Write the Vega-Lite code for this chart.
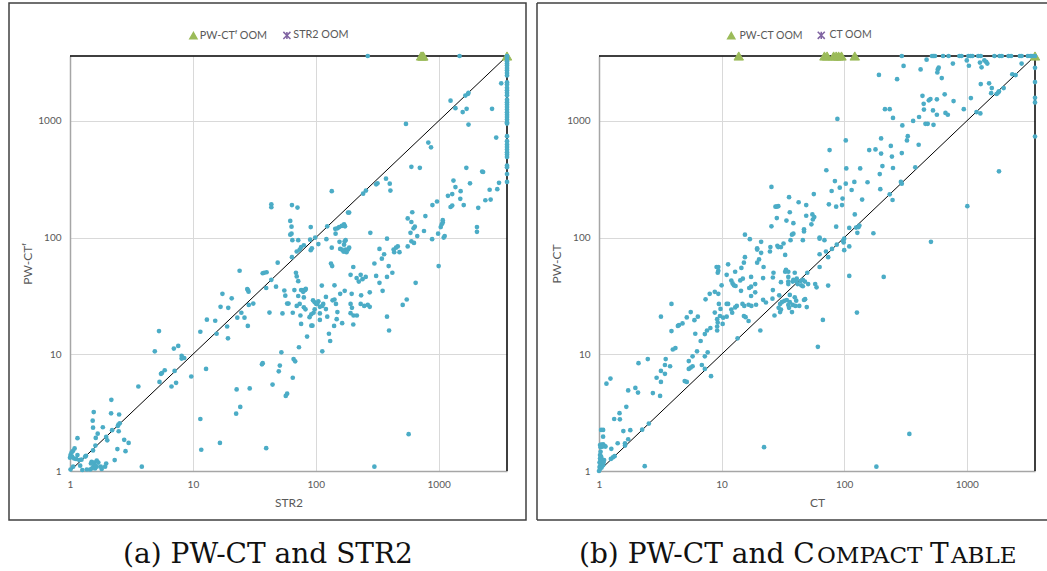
{"$schema":"https://vega.github.io/schema/vega-lite/v6.json","background":"white","padding":{"left":8,"top":2,"right":0,"bottom":0},"spacing":9,"resolve":{"scale":{"shape":"independent","fill":"independent","stroke":"independent"},"legend":{"shape":"independent","fill":"independent","stroke":"independent"}},"config":{"view":{"stroke":null},"axis":{"labelFont":"Lato","titleFont":"Lato","labelFontSize":10,"titleFontSize":12,"labelColor":"#595959","titleColor":"#595959","titleFontWeight":"normal","ticks":false,"labelFlush":false,"domainColor":"#A6A6A6","domainWidth":1.5,"gridColor":"#D9D9D9","gridWidth":1},"legend":{"labelFont":"Lato","labelColor":"#595959"}},
"hconcat":[
{"width":437,"height":415,"layer":[
{"data":{"values":[{}]},"mark":{"type":"rect","fillOpacity":0,"stroke":"#404040","strokeWidth":1.5},"encoding":{"x":{"value":-61},"x2":{"value":456},"y":{"value":-53},"y2":{"value":464}}},
{"data":{"values":[{"x":1,"y":1,"k":"diag","i":0},{"x":3600,"y":3600,"k":"diag","i":1},{"x":1,"y":3600,"k":"box","i":0},{"x":3600,"y":3600,"k":"box","i":1},{"x":3600,"y":1,"k":"box","i":2}]},"mark":{"type":"line","color":"black"},"encoding":{"x":{"field":"x","type":"quantitative","scale":{"type":"log","domain":[1,3600],"nice":false},"axis":{"values":[1,10,100,1000],"grid":true,"title":"STR2","format":"d","labelPadding":8,"titlePadding":8}},"y":{"field":"y","type":"quantitative","scale":{"type":"log","domain":[1,3600],"nice":false},"axis":{"values":[1,10,100,1000],"grid":true,"title":"PW-CTᶠ","format":"d","labelPadding":9,"titlePadding":3}},"detail":{"field":"k"},"order":{"field":"i"},"strokeWidth":{"field":"k","type":"nominal","scale":{"domain":["diag","box"],"range":[1,1.5]},"legend":null}}},
{"data":{"values":[{"x":720,"y":3600,"s":"PW-CTᶠ OOM"},{"x":740,"y":3600,"s":"PW-CTᶠ OOM"},{"x":750,"y":3600,"s":"PW-CTᶠ OOM"},{"x":3600,"y":3600,"s":"PW-CTᶠ OOM"}]},"mark":{"type":"point","opacity":1,"size":90,"strokeWidth":1},"encoding":{"x":{"field":"x","type":"quantitative"},"y":{"field":"y","type":"quantitative"},"shape":{"field":"s","type":"nominal","scale":{"domain":["PW-CTᶠ OOM","STR2 OOM"],"range":["triangle-up","M-1,-1L1,1M-1,1L1,-1M0,-1L0,1"]},"legend":{"title":null,"orient":"none","direction":"horizontal","legendX":118,"legendY":-26,"columns":2,"symbolSize":50,"columnPadding":11.5,"labelOffset":1,"labelFontSize":10.8}},"fill":{"field":"s","type":"nominal","scale":{"domain":["PW-CTᶠ OOM","STR2 OOM"],"range":["#9BBB59","#8064A2"]},"legend":{"title":null,"orient":"none","direction":"horizontal","legendX":118,"legendY":-26,"columns":2,"symbolSize":50,"columnPadding":11.5,"labelOffset":1,"labelFontSize":10.8}},"stroke":{"field":"s","type":"nominal","scale":{"domain":["PW-CTᶠ OOM","STR2 OOM"],"range":["#9BBB59","#8064A2"]},"legend":{"title":null,"orient":"none","direction":"horizontal","legendX":118,"legendY":-26,"columns":2,"symbolSize":50,"columnPadding":11.5,"labelOffset":1,"labelFontSize":10.8}}}},
{"data":{"values":[
{"x":5.3,"y":15.8},{"x":4.9,"y":10.6},{"x":7,"y":11.2},{"x":7.6,"y":11.8},{"x":8.1,"y":9.7},{"x":8.1,"y":9.2},{"x":8.5,"y":9.3},{"x":11.5,"y":15.6},{"x":13,"y":19.8},{"x":15.2,"y":19.4},{"x":15.6,"y":15},{"x":19,"y":17.3},{"x":19.3,"y":13.7},{"x":16.8,"y":25.5},{"x":17.4,"y":33},{"x":20.7,"y":30.2},{"x":19.4,"y":25},{"x":23,"y":20.6},{"x":24.8,"y":22.7},{"x":26.3,"y":20.6},{"x":28,"y":17.5},{"x":28,"y":35.5},{"x":27.7,"y":36.2},{"x":28.4,"y":34.4},{"x":28.5,"y":26.5},{"x":31,"y":27.2},{"x":42,"y":22.8},{"x":53.6,"y":22.4},{"x":65,"y":22.7},{"x":39.5,"y":37},{"x":43.5,"y":43.5},{"x":47.5,"y":38},{"x":37,"y":49.5},{"x":38,"y":50},{"x":39.8,"y":50.5},{"x":24,"y":52},{"x":55.5,"y":35.2},{"x":56.5,"y":31.8},{"x":67,"y":35.5},{"x":69,"y":50},{"x":70,"y":46.5},{"x":72,"y":42.3},{"x":72,"y":31.6},{"x":80,"y":30.7},{"x":76,"y":35.5},{"x":79,"y":35.5},{"x":82,"y":35.5},{"x":83,"y":36.3},{"x":79,"y":34.3},{"x":58.5,"y":27.2},{"x":60,"y":27.2},{"x":70,"y":26},{"x":74,"y":27},{"x":80,"y":25.3},{"x":82.5,"y":24.3},{"x":75,"y":21.5},{"x":76,"y":18.2},{"x":92,"y":17.6},{"x":94,"y":17.6},{"x":85,"y":14.2},{"x":73,"y":11.5},{"x":52.5,"y":10.4},{"x":113,"y":10.6},{"x":95,"y":29},{"x":98,"y":27.9},{"x":101,"y":27},{"x":105,"y":28.5},{"x":103,"y":27.2},{"x":108,"y":25.5},{"x":113,"y":26},{"x":115,"y":27},{"x":121,"y":24.4},{"x":121,"y":31},{"x":98,"y":24.3},{"x":96,"y":22.7},{"x":92,"y":22},{"x":89,"y":20.8},{"x":108,"y":22.4},{"x":108,"y":19.7},{"x":124,"y":21},{"x":112,"y":38.8},{"x":128,"y":15},{"x":131,"y":13},
{"x":12.8,"y":7.5},{"x":9.7,"y":6.45},{"x":7.3,"y":5.7},{"x":6.7,"y":5.3},{"x":5.35,"y":5.8},{"x":3.6,"y":5.3},{"x":5.5,"y":6.8},{"x":5.6,"y":6.9},{"x":5.9,"y":7.3},{"x":7.1,"y":7.2},{"x":2.17,"y":4.07},{"x":1.56,"y":3.2},{"x":2.16,"y":3.12},{"x":2.51,"y":3.05},{"x":1.53,"y":2.7},{"x":1.54,"y":2.35},{"x":1.85,"y":2.37},{"x":2.2,"y":2.24},{"x":2.54,"y":2.56},{"x":2.48,"y":2.5},{"x":2.45,"y":2.43},{"x":2.49,"y":2.19},{"x":1.68,"y":2.09},{"x":1.62,"y":1.92},{"x":1.97,"y":1.96},{"x":2.01,"y":1.83},{"x":2.76,"y":1.85},{"x":3,"y":1.74},{"x":1.15,"y":1.91},{"x":1.61,"y":1.65},{"x":1.54,"y":1.5},{"x":2.43,"y":1.54},{"x":2.83,"y":1.48},{"x":2.31,"y":1.24},{"x":3.84,"y":1.09},
{"x":1.09,"y":1.56},{"x":1.06,"y":1.49},{"x":1.03,"y":1.44},{"x":1.01,"y":1.37},{"x":1.04,"y":1.33},{"x":1.08,"y":1.28},{"x":1.15,"y":1.37},{"x":1.12,"y":1.27},{"x":1.19,"y":1.24},{"x":1.24,"y":1.25},{"x":1.33,"y":1.33},{"x":1.35,"y":1.35},{"x":1,"y":1.3},
{"x":1.5,"y":1.2},{"x":1.57,"y":1.18},{"x":1.65,"y":1.23},{"x":1.7,"y":1.18},{"x":1.78,"y":1.09},{"x":1.93,"y":1.09},{"x":1.97,"y":1.16},{"x":1.55,"y":1.09},{"x":1.46,"y":1.03},{"x":1.37,"y":1.03},{"x":1.21,"y":1.11},{"x":1.06,"y":1.09},{"x":1.26,"y":1.02},{"x":1.6,"y":1.05},{"x":1.5,"y":1.05},{"x":1.81,"y":1.04},{"x":1.48,"y":1.16},{"x":1.6,"y":1.12},{"x":1.65,"y":1.09},{"x":1.01,"y":1.03},
{"x":11.5,"y":2.79},{"x":11.7,"y":1.52},{"x":16.6,"y":1.74},{"x":39.5,"y":1.57},{"x":22.7,"y":5},{"x":29,"y":5.1},{"x":24.3,"y":3.54},{"x":22.5,"y":3.1},{"x":36.5,"y":8.2},{"x":37,"y":8.4},{"x":51,"y":8},{"x":50,"y":7.15},{"x":65,"y":6.3},{"x":44.5,"y":5.5},{"x":58.5,"y":4.6},{"x":57,"y":4.4},{"x":66,"y":9.1},{"x":68,"y":8.7},{"x":300,"y":1.09},{"x":570,"y":2.07},
{"x":43.5,"y":193},{"x":43.5,"y":182},{"x":64,"y":190},{"x":71,"y":181},{"x":135,"y":250},{"x":62,"y":139},{"x":63.5,"y":124},{"x":63.5,"y":108},{"x":62,"y":106},{"x":64.5,"y":95},{"x":72,"y":95},{"x":91,"y":123},{"x":124,"y":125},{"x":90,"y":96},{"x":99,"y":100},{"x":122,"y":97},{"x":105,"y":88},{"x":93,"y":81},{"x":91,"y":78},{"x":70,"y":76},{"x":74,"y":79},{"x":76,"y":83},{"x":80,"y":86},{"x":64,"y":68},{"x":49,"y":61},{"x":135,"y":82},{"x":133,"y":60},{"x":136,"y":57},{"x":145,"y":108},{"x":144,"y":119},{"x":150,"y":120},{"x":155,"y":123},{"x":163,"y":126},{"x":170,"y":130},{"x":173,"y":125},{"x":168,"y":127},{"x":183,"y":164},{"x":187,"y":164},{"x":243,"y":238},{"x":256,"y":253},{"x":310,"y":286},{"x":318,"y":292},{"x":373,"y":320},{"x":400,"y":290},{"x":405,"y":253},{"x":278,"y":110},{"x":380,"y":98},{"x":156,"y":92},{"x":172,"y":93},{"x":175,"y":95},{"x":170,"y":87},{"x":158,"y":80},{"x":163,"y":79},{"x":170,"y":76},{"x":175,"y":79},{"x":183,"y":79},{"x":178,"y":75},{"x":168,"y":76},{"x":187,"y":82},{"x":330,"y":80},{"x":360,"y":72},{"x":345,"y":66},{"x":300,"y":60},{"x":202,"y":56},{"x":392,"y":57},{"x":420,"y":50},
{"x":192,"y":48},{"x":215,"y":45},{"x":232,"y":48},{"x":224,"y":42},{"x":240,"y":44},{"x":255,"y":46},{"x":310,"y":47},{"x":380,"y":46},{"x":330,"y":41},{"x":350,"y":35},{"x":275,"y":34},{"x":172,"y":35},{"x":158,"y":33},{"x":196,"y":33},{"x":234,"y":32},{"x":142,"y":39},{"x":142,"y":29.5},{"x":137,"y":29},{"x":146,"y":27},{"x":192,"y":27},{"x":232,"y":27},{"x":248,"y":26},{"x":265,"y":26.5},{"x":275,"y":25.5},{"x":150,"y":23},{"x":197,"y":25},{"x":192,"y":22.5},{"x":203,"y":21.5},{"x":216,"y":21.5},{"x":148,"y":20},{"x":164,"y":18.5},{"x":202,"y":18},{"x":141,"y":17.5},{"x":395,"y":16},{"x":380,"y":21},{"x":510,"y":26.5},{"x":550,"y":29.5},{"x":650,"y":41},
{"x":435,"y":75},{"x":430,"y":79},{"x":450,"y":82},{"x":465,"y":84},{"x":480,"y":75},{"x":560,"y":84},{"x":600,"y":93},{"x":630,"y":90},{"x":670,"y":103},{"x":760,"y":114},{"x":885,"y":97},{"x":590,"y":110},{"x":560,"y":146},{"x":600,"y":136},{"x":625,"y":120},{"x":640,"y":124},{"x":610,"y":165},{"x":780,"y":153},{"x":890,"y":190},{"x":970,"y":204},{"x":990,"y":108},{"x":1100,"y":100},{"x":1120,"y":103},{"x":1040,"y":123},{"x":1060,"y":130},{"x":1080,"y":135},{"x":1080,"y":141},{"x":1000,"y":57},{"x":1190,"y":228},{"x":1290,"y":236},{"x":1250,"y":183},{"x":1290,"y":188},{"x":1320,"y":308},{"x":1370,"y":271},{"x":1500,"y":215},{"x":1600,"y":190},{"x":1510,"y":250},{"x":1800,"y":292},{"x":2050,"y":123},{"x":2050,"y":112},{"x":2100,"y":180},{"x":2400,"y":209},{"x":2650,"y":212},{"x":2600,"y":257},{"x":3000,"y":260},{"x":3100,"y":295},{"x":2300,"y":365},
{"x":265,"y":3600},{"x":1480,"y":3600},{"x":3230,"y":2100},{"x":1730,"y":1700},{"x":1750,"y":1740},{"x":1650,"y":1650},{"x":1250,"y":1490},{"x":1370,"y":1285},{"x":1690,"y":1270},{"x":1570,"y":1190},{"x":2720,"y":1270},{"x":542,"y":943},{"x":1750,"y":930},{"x":2940,"y":720},{"x":824,"y":652},{"x":867,"y":594},{"x":600,"y":404},{"x":703,"y":396},{"x":1680,"y":396},{"x":2260,"y":368},
{"x":3600,"y":3600},{"x":3600,"y":3540},{"x":3600,"y":3400},{"x":3600,"y":3240},{"x":3600,"y":3100},{"x":3600,"y":2980},{"x":3600,"y":2840},{"x":3600,"y":2720},{"x":3600,"y":2580},{"x":3600,"y":2450},{"x":3600,"y":2140},{"x":3600,"y":2050},{"x":3600,"y":1920},{"x":3600,"y":1830},{"x":3600,"y":1740},{"x":3600,"y":1660},{"x":3600,"y":1520},{"x":3600,"y":1445},{"x":3600,"y":1380},{"x":3600,"y":1318},{"x":3600,"y":1250},{"x":3600,"y":1186},{"x":3600,"y":1130},{"x":3600,"y":1080},{"x":3600,"y":1026},{"x":3600,"y":974},{"x":3600,"y":948},{"x":3600,"y":740},{"x":3600,"y":670},{"x":3600,"y":627},{"x":3600,"y":599},{"x":3600,"y":568},{"x":3600,"y":539},{"x":3600,"y":515},{"x":3600,"y":491},{"x":3600,"y":414},{"x":3600,"y":401},{"x":3600,"y":351},{"x":3600,"y":300}
]},"mark":{"type":"circle","color":"#4BACC6","size":22,"opacity":1},"encoding":{"x":{"field":"x","type":"quantitative"},"y":{"field":"y","type":"quantitative"}}},
{"data":{"values":[{"caption":"(a) PW-CT and STR2"}]},"mark":{"type":"text","font":"DejaVu Serif","fontSize":28,"color":"#111111","align":"center","baseline":"alphabetic"},"encoding":{"text":{"field":"caption"},"x":{"value":198},"y":{"value":507}}}
]},
{"width":436,"height":415,"layer":[
{"data":{"values":[{}]},"mark":{"type":"rule","color":"#404040","strokeWidth":1.5},"encoding":{"x":{"value":-62},"x2":{"value":448},"y":{"value":-53}}},
{"data":{"values":[{}]},"mark":{"type":"rule","color":"#404040","strokeWidth":1.5},"encoding":{"x":{"value":-62},"x2":{"value":448},"y":{"value":464}}},
{"data":{"values":[{}]},"mark":{"type":"rule","color":"#404040","strokeWidth":1.5},"encoding":{"x":{"value":-62},"y":{"value":-53},"y2":{"value":464}}},
{"data":{"values":[{"x":1,"y":1,"k":"diag","i":0},{"x":3600,"y":3600,"k":"diag","i":1},{"x":1,"y":3600,"k":"box","i":0},{"x":3600,"y":3600,"k":"box","i":1},{"x":3600,"y":1,"k":"box","i":2}]},"mark":{"type":"line","color":"black"},"encoding":{"x":{"field":"x","type":"quantitative","scale":{"type":"log","domain":[1,3600],"nice":false},"axis":{"values":[1,10,100,1000],"grid":true,"title":"CT","format":"d","labelPadding":8,"titlePadding":8}},"y":{"field":"y","type":"quantitative","scale":{"type":"log","domain":[1,3600],"nice":false},"axis":{"values":[1,10,100,1000],"grid":true,"title":"PW-CT","format":"d","labelPadding":9,"titlePadding":3}},"detail":{"field":"k"},"order":{"field":"i"},"strokeWidth":{"field":"k","type":"nominal","scale":{"domain":["diag","box"],"range":[1,1.5]},"legend":null}}},
{"data":{"values":[{"x":13.8,"y":3600,"s":"PW-CT OOM"},{"x":69,"y":3600,"s":"PW-CT OOM"},{"x":72.5,"y":3600,"s":"PW-CT OOM"},{"x":82,"y":3600,"s":"PW-CT OOM"},{"x":86,"y":3600,"s":"PW-CT OOM"},{"x":90,"y":3600,"s":"PW-CT OOM"},{"x":95,"y":3600,"s":"PW-CT OOM"},{"x":122,"y":3600,"s":"PW-CT OOM"},{"x":3600,"y":3600,"s":"PW-CT OOM"}]},"mark":{"type":"point","opacity":1,"size":90,"strokeWidth":1},"encoding":{"x":{"field":"x","type":"quantitative"},"y":{"field":"y","type":"quantitative"},"shape":{"field":"s","type":"nominal","scale":{"domain":["PW-CT OOM","CT OOM"],"range":["triangle-up","M-1,-1L1,1M-1,1L1,-1M0,-1L0,1"]},"legend":{"title":null,"orient":"none","direction":"horizontal","legendX":127,"legendY":-26,"columns":2,"symbolSize":50,"columnPadding":11,"labelOffset":3,"labelFontSize":10.5}},"fill":{"field":"s","type":"nominal","scale":{"domain":["PW-CT OOM","CT OOM"],"range":["#9BBB59","#8064A2"]},"legend":{"title":null,"orient":"none","direction":"horizontal","legendX":127,"legendY":-26,"columns":2,"symbolSize":50,"columnPadding":11,"labelOffset":3,"labelFontSize":10.5}},"stroke":{"field":"s","type":"nominal","scale":{"domain":["PW-CT OOM","CT OOM"],"range":["#9BBB59","#8064A2"]},"legend":{"title":null,"orient":"none","direction":"horizontal","legendX":127,"legendY":-26,"columns":2,"symbolSize":50,"columnPadding":11,"labelOffset":3,"labelFontSize":10.5}}}},
{"data":{"values":[
{"x":110,"y":47},{"x":127,"y":22.8},{"x":74,"y":38.8},{"x":58,"y":40},{"x":59.5,"y":37.5},{"x":67,"y":19.7},{"x":61,"y":11.6},{"x":49.5,"y":25.4},{"x":20.7,"y":16},{"x":13.5,"y":13.7},{"x":8.2,"y":6.5},{"x":22.2,"y":1.6},{"x":2.36,"y":1.1},{"x":183,"y":1.09},{"x":340,"y":2.08},
{"x":3.9,"y":27},{"x":3.2,"y":21},{"x":3.9,"y":15.8},{"x":4,"y":11},{"x":4.2,"y":11.3},{"x":2.1,"y":8.4},{"x":2.5,"y":9.1},{"x":3.5,"y":9.1},{"x":3.45,"y":8.1},{"x":3.8,"y":7.9},{"x":3.2,"y":7.2},{"x":3.45,"y":6.8},{"x":2.95,"y":6.3},{"x":3.2,"y":5.8},{"x":1.24,"y":6.2},{"x":1.15,"y":5.6},{"x":1.73,"y":4.9},{"x":1.98,"y":5.15},{"x":2.08,"y":4.7},{"x":2.75,"y":4.65},{"x":3.15,"y":4.4},{"x":1.67,"y":3.55},{"x":1.47,"y":3.13},{"x":1.33,"y":2.79},{"x":1.48,"y":2.77},{"x":2.55,"y":2.55},{"x":2.25,"y":2.26},{"x":1.8,"y":2.24},{"x":1.58,"y":2.2},{"x":1.08,"y":2.25},{"x":1.04,"y":2.25},{"x":1.08,"y":1.97},{"x":1.73,"y":1.87},{"x":1.63,"y":1.73},{"x":1.63,"y":1.65},{"x":1.42,"y":1.73},{"x":1.26,"y":1.55},{"x":1.34,"y":1.34},{"x":1.3,"y":1.31},{"x":1.25,"y":1.27},
{"x":1.08,"y":1.69},{"x":1.04,"y":1.68},{"x":1.02,"y":1.67},{"x":1.11,"y":1.64},{"x":1.13,"y":1.62},{"x":1.03,"y":1.6},{"x":1.07,"y":1.62},{"x":1.03,"y":1.46},{"x":1.02,"y":1.37},{"x":1.04,"y":1.33},{"x":1.02,"y":1.28},{"x":1.06,"y":1.26},{"x":1.1,"y":1.24},{"x":1.03,"y":1.23},{"x":1.07,"y":1.2},{"x":1.01,"y":1.18},{"x":1.05,"y":1.15},{"x":1.09,"y":1.18},{"x":1.03,"y":1.12},{"x":1.08,"y":1.12},{"x":1.01,"y":1.08},{"x":1.05,"y":1.07},{"x":1.02,"y":1.04},{"x":1,"y":1},
{"x":5,"y":5.9},{"x":5.2,"y":5.8},{"x":7.3,"y":7.5},{"x":6.9,"y":8.1},{"x":5.8,"y":7.9},{"x":5.6,"y":7.7},{"x":5.4,"y":7.5},{"x":5.4,"y":8.75},{"x":5.8,"y":9.6},{"x":6.3,"y":10.6},{"x":7.3,"y":9.6},{"x":7.7,"y":10.4},{"x":6.75,"y":13},{"x":6.1,"y":15},{"x":7.3,"y":14.9},{"x":7.6,"y":16},{"x":8.1,"y":16.8},{"x":9.2,"y":16},{"x":9.2,"y":17.3},{"x":9.3,"y":18.7},{"x":9.2,"y":20},{"x":10.2,"y":18.2},{"x":10.3,"y":20.6},{"x":11,"y":21},{"x":9.7,"y":21.3},{"x":9.8,"y":24.5},{"x":8.8,"y":22.8},{"x":9.5,"y":27},{"x":11,"y":27},{"x":11.3,"y":27},{"x":12,"y":24.2},{"x":12.2,"y":22.7},{"x":12.9,"y":25.2},{"x":13.3,"y":26},{"x":14.8,"y":27},{"x":15.3,"y":26},{"x":16.6,"y":26.6},{"x":17.5,"y":26},{"x":19.1,"y":26.6},{"x":15.2,"y":21.3},{"x":15.7,"y":20.8},{"x":16.6,"y":19.3},{"x":6.4,"y":21},{"x":6,"y":19.6},{"x":5.6,"y":23},{"x":5.2,"y":20.7},{"x":4.8,"y":18.4},{"x":4.5,"y":17.8},{"x":4.4,"y":17.5},
{"x":7.4,"y":29.6},{"x":8,"y":33},{"x":8.8,"y":34.3},{"x":9.4,"y":33},{"x":10,"y":39},{"x":9.3,"y":50},{"x":9.4,"y":52},{"x":11,"y":48},{"x":12,"y":42.8},{"x":12.6,"y":39},{"x":12.3,"y":40.5},{"x":13,"y":38.5},{"x":14.4,"y":35},{"x":14.2,"y":43},{"x":14.9,"y":44.5},{"x":16.8,"y":37},{"x":17.4,"y":38},{"x":18.8,"y":40},{"x":18.8,"y":34},{"x":17.4,"y":31.6},{"x":17.4,"y":46},{"x":21.8,"y":45},{"x":12.9,"y":51},{"x":26.5,"y":50},{"x":26.2,"y":45.5},{"x":30.5,"y":41.5},{"x":26.2,"y":35.5},{"x":35,"y":46},{"x":35,"y":42},{"x":35,"y":40},{"x":38,"y":42},{"x":39.5,"y":50},{"x":35,"y":51},
{"x":21.8,"y":29.3},{"x":23,"y":27.8},{"x":26,"y":30},{"x":29.5,"y":32},{"x":36,"y":32.3},{"x":39.5,"y":30.8},{"x":31,"y":28},{"x":30,"y":27},{"x":32.5,"y":28.7},{"x":34,"y":29.2},{"x":36,"y":28},{"x":38,"y":26.5},{"x":35,"y":26.5},{"x":40.6,"y":28.8},{"x":48,"y":29.7},{"x":47,"y":29.2},{"x":43,"y":26},{"x":40,"y":26},{"x":29.2,"y":25},{"x":30.5,"y":24.2},{"x":30,"y":23},{"x":27,"y":21.5},{"x":35.5,"y":25},{"x":37.5,"y":23},{"x":38.5,"y":43.5},{"x":40.3,"y":42.5},{"x":41.7,"y":40},{"x":44.7,"y":39},{"x":46,"y":38.3},{"x":47.8,"y":42},{"x":46,"y":43.5},{"x":50.8,"y":40},{"x":44,"y":42.5},{"x":41,"y":44.5},{"x":50,"y":50},
{"x":103,"y":680},{"x":76,"y":562},{"x":25.5,"y":272},{"x":35.5,"y":222},{"x":42.5,"y":201},{"x":49,"y":190},{"x":56.5,"y":236},{"x":71.5,"y":378},{"x":84,"y":305},{"x":92,"y":268},{"x":79,"y":251},{"x":104,"y":392},{"x":135,"y":392},{"x":103,"y":290},{"x":121,"y":300},{"x":155,"y":298},{"x":115,"y":256},{"x":97,"y":216},{"x":75,"y":193},{"x":86,"y":184},{"x":96,"y":190},{"x":140,"y":212},{"x":122,"y":158},{"x":128,"y":110},{"x":173,"y":109},{"x":110,"y":121},{"x":86,"y":124},{"x":125,"y":122},{"x":131,"y":123},{"x":133,"y":127},{"x":27.5,"y":184},{"x":28.2,"y":184},{"x":29,"y":186},{"x":36,"y":165},{"x":28.2,"y":147},{"x":33.8,"y":140},{"x":38.5,"y":133},{"x":49,"y":154},{"x":55,"y":158},{"x":57,"y":150},{"x":55.5,"y":143},{"x":54,"y":130},{"x":25.5,"y":125},{"x":38.5,"y":108},{"x":37.5,"y":106},{"x":36.5,"y":95},{"x":47,"y":118},{"x":47,"y":113},{"x":46,"y":95},{"x":63,"y":100},{"x":63,"y":98},{"x":69,"y":95},{"x":15.5,"y":106},{"x":17,"y":97},{"x":21,"y":92},{"x":25,"y":83},{"x":24.8,"y":76},{"x":28.5,"y":85},{"x":29,"y":83},{"x":30.5,"y":83},{"x":32,"y":89},{"x":33,"y":71},{"x":19.5,"y":81},{"x":19.5,"y":79},{"x":21,"y":74},{"x":20.2,"y":65},{"x":19.5,"y":61},{"x":15.5,"y":68},{"x":15.2,"y":61},{"x":11.3,"y":59},{"x":9.1,"y":56},{"x":9.4,"y":56},{"x":14.5,"y":55},{"x":22,"y":56},{"x":33.5,"y":53},{"x":33,"y":51},{"x":87,"y":87},{"x":79.5,"y":80},{"x":71,"y":76},{"x":63,"y":72},{"x":74,"y":68},{"x":63,"y":56},{"x":100,"y":98},{"x":98,"y":94},{"x":99,"y":91},{"x":110,"y":84},{"x":100,"y":78},{"x":210,"y":46},{"x":510,"y":92},{"x":200,"y":708},{"x":330,"y":740},{"x":325,"y":680},{"x":405,"y":625},{"x":240,"y":610},{"x":160,"y":562},{"x":180,"y":570},{"x":200,"y":525},{"x":295,"y":530},{"x":245,"y":495},{"x":205,"y":410},{"x":250,"y":395},{"x":380,"y":400},{"x":195,"y":350},{"x":290,"y":300},{"x":295,"y":290},{"x":197,"y":260},{"x":235,"y":235},{"x":248,"y":210},
{"x":295,"y":3600},{"x":520,"y":3600},{"x":535,"y":3600},{"x":550,"y":3600},{"x":640,"y":3600},{"x":710,"y":3600},{"x":870,"y":3600},{"x":905,"y":3600},{"x":1030,"y":3600},{"x":1075,"y":3600},{"x":1110,"y":3600},{"x":1240,"y":3600},{"x":1300,"y":3600},{"x":1680,"y":3600},{"x":1850,"y":3600},{"x":1930,"y":3600},{"x":2190,"y":3600},{"x":2300,"y":3600},{"x":2710,"y":3600},{"x":2800,"y":3600},{"x":3150,"y":3600},{"x":3300,"y":3600},{"x":3400,"y":3600},{"x":3600,"y":3600},
{"x":470,"y":3350},{"x":1000,"y":3300},{"x":1040,"y":2970},{"x":305,"y":2960},{"x":420,"y":2760},{"x":590,"y":2860},{"x":580,"y":2760},{"x":575,"y":2600},{"x":770,"y":3100},{"x":1280,"y":3160},{"x":1390,"y":3300},{"x":1440,"y":3200},{"x":1470,"y":3100},{"x":1320,"y":2880},{"x":2800,"y":3100},{"x":192,"y":2480},{"x":270,"y":2280},{"x":625,"y":2330},{"x":2350,"y":2510},{"x":2500,"y":2470},{"x":1300,"y":2070},{"x":1520,"y":2100},{"x":2000,"y":1910},{"x":1600,"y":1910},{"x":1580,"y":1730},{"x":1750,"y":1700},{"x":1800,"y":1750},{"x":1830,"y":1790},{"x":435,"y":1640},{"x":660,"y":1690},{"x":1080,"y":1570},{"x":570,"y":1530},{"x":490,"y":1500},{"x":505,"y":1540},{"x":780,"y":1480},{"x":445,"y":1400},{"x":447,"y":1250},{"x":945,"y":1260},{"x":530,"y":1230},{"x":570,"y":1130},{"x":670,"y":1170},{"x":700,"y":1130},{"x":215,"y":1260},{"x":235,"y":1260},{"x":250,"y":1060},{"x":408,"y":1080},{"x":365,"y":1000},{"x":298,"y":915},{"x":460,"y":945},{"x":480,"y":945},{"x":535,"y":925},{"x":1200,"y":1190},{"x":1290,"y":1160},{"x":88,"y":1040},{"x":1830,"y":370},{"x":1010,"y":186},{"x":3600,"y":2850},{"x":3600,"y":2150},{"x":3600,"y":1580},{"x":3600,"y":1440},{"x":3600,"y":735}
]},"mark":{"type":"circle","color":"#4BACC6","size":22,"opacity":1},"encoding":{"x":{"field":"x","type":"quantitative"},"y":{"field":"y","type":"quantitative"}}},
{"data":{"values":[{"caption":"(b) PW-CT and C"}]},"mark":{"type":"text","font":"DejaVu Serif","fontSize":28,"color":"#111111","align":"left","baseline":"alphabetic"},"encoding":{"text":{"field":"caption"},"x":{"value":-20},"y":{"value":507}}},
{"data":{"values":[{"caption":"OMPACT"}]},"mark":{"type":"text","font":"DejaVu Serif","fontSize":23,"color":"#111111","align":"left","baseline":"alphabetic"},"encoding":{"text":{"field":"caption"},"x":{"value":218},"y":{"value":507}}},
{"data":{"values":[{"caption":"T"}]},"mark":{"type":"text","font":"DejaVu Serif","fontSize":28,"color":"#111111","align":"left","baseline":"alphabetic"},"encoding":{"text":{"field":"caption"},"x":{"value":331},"y":{"value":507}}},
{"data":{"values":[{"caption":"ABLE"}]},"mark":{"type":"text","font":"DejaVu Serif","fontSize":23,"color":"#111111","align":"left","baseline":"alphabetic"},"encoding":{"text":{"field":"caption"},"x":{"value":352},"y":{"value":507}}}
]}
]}
